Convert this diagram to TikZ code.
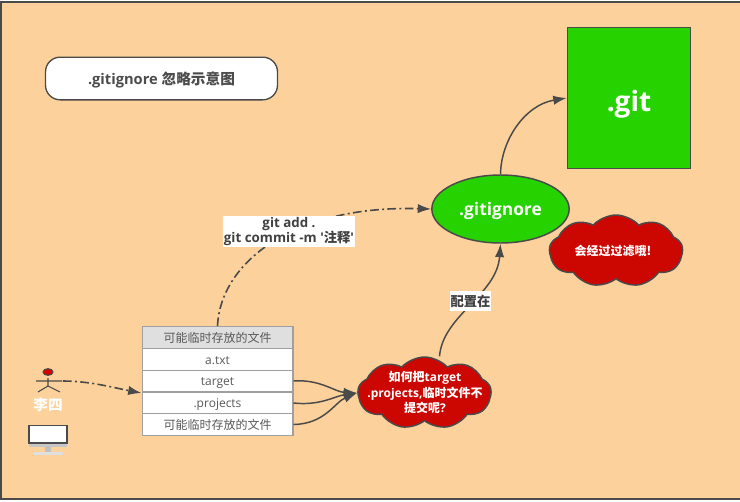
\documentclass[tikz,border=0pt]{standalone}
\usepackage{fontspec}
\setmainfont{Open Sans}
\newfontfamily\cjk{Noto Sans CJK SC}
\usetikzlibrary{arrows.meta,shapes.geometric,shapes.symbols}
\definecolor{pagebg}{HTML}{FDD19B}
\definecolor{edgegray}{HTML}{4A4A4A}
\definecolor{leafgreen}{HTML}{26D300}
\definecolor{cloudred}{HTML}{CC0600}
\tikzset{
  flow/.style={edgegray, line width=1.1pt, -{Latex[length=10pt,width=7pt]}},
  dashflow/.style={flow, line width=1.2pt, dash pattern=on 6.5pt off 2.5pt on 1.5pt off 2.5pt},
  row/.style={draw=gray!75, line width=1pt, fill=white, minimum width=113pt, minimum height=16.2pt, inner sep=0pt, text height=7pt, text depth=0pt, text=black!65, font=\fontsize{9}{11}\selectfont},
  redcloud/.style={cloud, cloud puffs=9, cloud puff arc=95, cloud ignores aspect, draw=edgegray, line width=1.1pt, fill=cloudred, minimum width=100pt, minimum height=54pt, inner sep=0pt},
  cloudtext/.style={text=white, inner sep=0pt, align=center, font=\fontsize{9}{11.5}\selectfont\bfseries},
  whitelabel/.style={fill=white, inner sep=0pt, align=center, text=black!75, font=\fontsize{10}{11.5}\selectfont\bfseries}
}
\begin{document}
\begin{tikzpicture}[x=0.75pt,y=-0.75pt]
  \useasboundingbox (0,0) rectangle (740,501);
  % page
  \draw[edgegray, line width=0.9pt, fill=pagebg] (1,2) rectangle (745,499);

  % title
  \node[draw=edgegray, line width=1pt, fill=white, rounded corners=11pt, minimum width=174pt, minimum height=32pt, text height=9pt, text depth=0pt, text=black!70, font=\fontsize{11}{13}\selectfont\bfseries] (title) at (161.5,78.5) {.gitignore {\cjk 忽略示意图}};

  % green boxes
  \node[draw=edgegray, line width=1.1pt, fill=leafgreen, minimum width=92.5pt, minimum height=106pt, text height=20pt, text depth=0pt, text=white, font=\fontsize{21}{26}\selectfont\bfseries] (gitdir) at (629,98) {.git};
  \node[ellipse, draw=edgegray, line width=1.1pt, fill=leafgreen, minimum width=103pt, minimum height=51pt, inner sep=0pt, text height=10pt, text depth=0pt, text=white, font=\fontsize{13}{16}\selectfont\bfseries] (ignore) at (500.5,209) {.gitignore};

  % clouds
  \node[redcloud] (ask) at (424.5,393) {};
  \node[cloudtext] (asktext) at (425,392.5) {{\cjk 如何把}target\\.projects,{\cjk 临时文件不}\\{\cjk 提交呢}?};
  \node[redcloud] (filtered) at (616,251) {};
  \node[cloudtext] (filteredtext) at (613,251) {\cjk 会经过过滤哦!};

  % file table
  \node[row, fill=gray!25] (rowhead) at (217.5,337.5) {\cjk 可能临时存放的文件};
  \node[row] (rowtxt) at (217.5,359.5) {a.txt};
  \node[row] (rowtarget) at (217.5,381) {target};
  \node[row] (rowprojects) at (217.5,403) {.projects};
  \node[row] (rowtemp) at (217.5,424.5) {\cjk 可能临时存放的文件};

  % actor
  \draw[edgegray, line width=0.8pt] (48,378) -- (48,386) (36,381) -- (62,381) (38,392) -- (48,386) -- (60,392);
  \node[ellipse, draw=edgegray, line width=0.8pt, fill=red!85!black, minimum width=7.5pt, minimum height=5pt, inner sep=0pt] (head) at (48,372) {};
  \node[text=white, font=\cjk\fontsize{11}{13}\selectfont\bfseries] (lisi) at (48,405) {李四};
  \coordinate (hand) at (63,381);

  % computer
  \fill[gray!45] (29,425) rectangle (67,447);
  \draw[edgegray, line width=1pt, fill=white] (29,425.5) rectangle (67,443);
  \fill[gray!50] (45,447) rectangle (51,452);
  \fill[gray!25] (33,452) -- (63,452) -- (63,455) -- (33,455) -- cycle;

  % connectors
  \draw[dashflow] (hand) .. controls (90,381) and (115,388) .. (rowtarget.west |- 0,393);
  \draw[flow] (rowtarget.east) .. controls (320,379) and (335,392) .. (ask.west);
  \draw[flow] (rowprojects.east) .. controls (320,406) and (335,396) .. (ask.west);
  \draw[flow] (rowtemp.east) .. controls (325,424) and (335,402) .. (ask.west);
  \draw[flow] (ask.north) ++(15,0) .. controls (443,315) and (497,295) .. (ignore.south);
  \draw[flow] (ignore.north) .. controls (501,140) and (525,105) .. (gitdir.west);
  \draw[dashflow] (rowhead.north) .. controls (220,265) and (290,205) .. (ignore.west);

  % connector labels
  \node[whitelabel, minimum width=99pt, minimum height=23pt] (cmdlabel) at (289,231.5) {git add .\\git commit -m \textquotesingle{\cjk 注释}\textquotesingle};
  \node[whitelabel, minimum width=31pt, minimum height=15pt, font=\cjk\fontsize{10}{11.5}\selectfont\bfseries] (setlabel) at (470.5,301) {配置在};
\end{tikzpicture}
\end{document}
